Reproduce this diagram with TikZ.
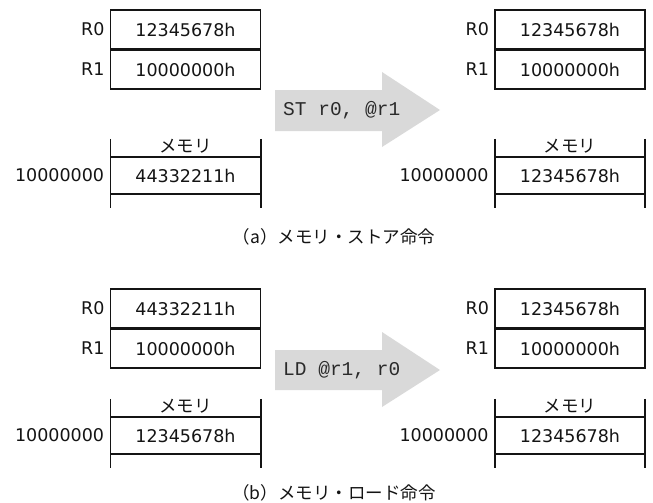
\documentclass[tikz,border=0pt]{standalone}
\usepackage{fontspec}
\setmainfont{DejaVu Sans}
\setmonofont{Liberation Mono}
\newfontfamily\jpfont{Noto Sans CJK JP}
\definecolor{ink}{HTML}{141414}
\definecolor{cmdink}{HTML}{2A2A2A}
\definecolor{arrowgray}{HTML}{D9D9D9}
\tikzset{
  reg/.style={draw=ink, line width=1.6pt, minimum width=150pt, minimum height=38.5pt, inner sep=0pt, text=ink, font=\fontsize{17.5}{20}\selectfont},
  cell/.style={minimum width=150pt, minimum height=37pt, inner sep=0pt, text=ink, font=\fontsize{17.5}{20}\selectfont},
  lbl/.style={anchor=east, inner sep=0pt, text=ink, font=\fontsize{17.5}{20}\selectfont},
  jplbl/.style={inner sep=0pt, text=ink, font=\jpfont\fontsize{17.5}{20}\selectfont},
  captext/.style={inner sep=0pt, text=ink, font=\jpfont\fontsize{17.5}{20}\selectfont},
  cmd/.style={anchor=west, inner sep=0pt, text=cmdink, font=\ttfamily\fontsize{19.5}{22}\selectfont},
  memline/.style={draw=ink, line width=1.6pt},
  bigarrow/.style={fill=arrowgray, draw=none}
}
\begin{document}
\begin{tikzpicture}[x=1pt, y=-1pt]
\useasboundingbox (0,0) rectangle (653,503);
% ---------- (a) ----------
\node[reg] (r0al) at (185.5,29.5) {12345678h};
\node[reg, anchor=north] (r1al) at (r0al.south) {10000000h};
\node[lbl] (r0allab) at ([xshift=-5pt]r0al.west) {R0};
\node[lbl] (r1allab) at ([xshift=-5pt]r1al.west) {R1};
\node[reg] (r0ar) at (570,29.5) {12345678h};
\node[reg, anchor=north] (r1ar) at (r0ar.south) {10000000h};
\node[lbl] (r0arlab) at ([xshift=-5pt]r0ar.west) {R0};
\node[lbl] (r1arlab) at ([xshift=-5pt]r1ar.west) {R1};
\node[cell] (mal) at (185.5,175.5) {44332211h};
\draw[memline] ([yshift=18pt]mal.north west) -- ([yshift=-14pt]mal.south west);
\draw[memline] ([yshift=18pt]mal.north east) -- ([yshift=-14pt]mal.south east);
\draw[memline] (mal.north west) -- (mal.north east);
\draw[memline] (mal.south west) -- (mal.south east);
\node[jplbl] (mallab) at ([yshift=10.5pt]mal.north) {メモリ};
\node[lbl] (maladdr) at ([xshift=-6pt]mal.west) {10000000};
\node[cell] (mar) at (570,175.5) {12345678h};
\draw[memline] ([yshift=18pt]mar.north west) -- ([yshift=-14pt]mar.south west);
\draw[memline] ([yshift=18pt]mar.north east) -- ([yshift=-14pt]mar.south east);
\draw[memline] (mar.north west) -- (mar.north east);
\draw[memline] (mar.south west) -- (mar.south east);
\node[jplbl] (marlab) at ([yshift=10.5pt]mar.north) {メモリ};
\node[lbl] (maraddr) at ([xshift=-6pt]mar.west) {10000000};
\fill[bigarrow] (275,90) -- (382,90) -- (382,72) -- (440,110) -- (382,147) -- (382,131) -- (275,131) -- cycle;
\node[cmd] (cmda) at (283,110.5) {ST r0, @r1};
\node[captext] (capa) at (334,237) {（a）メモリ・ストア命令};
% ---------- (b) ----------
\node[reg] (r0bl) at (185.5,308.5) {44332211h};
\node[reg, anchor=north] (r1bl) at (r0bl.south) {10000000h};
\node[lbl] (r0bllab) at ([xshift=-5pt]r0bl.west) {R0};
\node[lbl] (r1bllab) at ([xshift=-5pt]r1bl.west) {R1};
\node[reg] (r0br) at (570,308.5) {12345678h};
\node[reg, anchor=north] (r1br) at (r0br.south) {10000000h};
\node[lbl] (r0brlab) at ([xshift=-5pt]r0br.west) {R0};
\node[lbl] (r1brlab) at ([xshift=-5pt]r1br.west) {R1};
\node[cell] (mbl) at (185.5,435.5) {12345678h};
\draw[memline] ([yshift=18pt]mbl.north west) -- ([yshift=-14pt]mbl.south west);
\draw[memline] ([yshift=18pt]mbl.north east) -- ([yshift=-14pt]mbl.south east);
\draw[memline] (mbl.north west) -- (mbl.north east);
\draw[memline] (mbl.south west) -- (mbl.south east);
\node[jplbl] (mbllab) at ([yshift=10.5pt]mbl.north) {メモリ};
\node[lbl] (mbladdr) at ([xshift=-6pt]mbl.west) {10000000};
\node[cell] (mbr) at (570,435.5) {12345678h};
\draw[memline] ([yshift=18pt]mbr.north west) -- ([yshift=-14pt]mbr.south west);
\draw[memline] ([yshift=18pt]mbr.north east) -- ([yshift=-14pt]mbr.south east);
\draw[memline] (mbr.north west) -- (mbr.north east);
\draw[memline] (mbr.south west) -- (mbr.south east);
\node[jplbl] (mbrlab) at ([yshift=10.5pt]mbr.north) {メモリ};
\node[lbl] (mbraddr) at ([xshift=-6pt]mbr.west) {10000000};
\fill[bigarrow] (275,350) -- (382,350) -- (382,332) -- (440,370) -- (382,407) -- (382,390) -- (275,390) -- cycle;
\node[cmd] (cmdb) at (283,370.5) {LD @r1, r0};
\node[captext] (capb) at (334,493) {（b）メモリ・ロード命令};
\end{tikzpicture}
\end{document}
